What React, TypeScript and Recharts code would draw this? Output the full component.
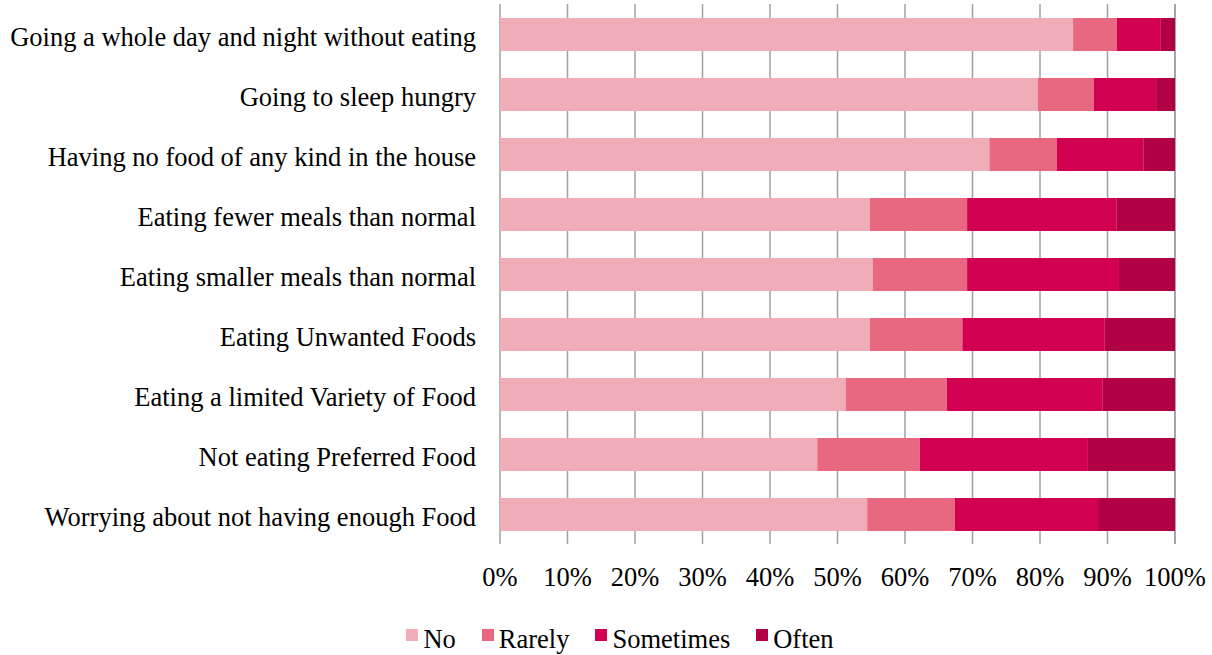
import { BarChart, Bar, XAxis, YAxis, CartesianGrid } from 'recharts';

const categories = [
  'Going a whole day and night without eating',
  'Going to sleep hungry',
  'Having no food of any kind in the house',
  'Eating fewer meals than normal',
  'Eating smaller meals than normal',
  'Eating Unwanted Foods',
  'Eating a limited Variety of Food',
  'Not eating Preferred Food',
  'Worrying about not having enough Food',
];

const noValues = [84.9, 79.7, 72.5, 54.8, 55.2, 54.8, 51.2, 47.0, 54.4];
const rarelyValues = [6.5, 8.3, 10.0, 14.4, 14.0, 13.7, 15.0, 15.2, 13.0];
const sometimesValues = [6.5, 9.2, 12.8, 22.1, 22.5, 21.1, 23.1, 24.9, 21.2];
const oftenValues = [2.1, 2.8, 4.7, 8.7, 8.3, 10.4, 10.7, 12.9, 11.4];

const xTicks = [0, 10, 20, 30, 40, 50, 60, 70, 80, 90, 100];

const seriesNames = ['No', 'Rarely', 'Sometimes', 'Often'];
const seriesColors = ['#f0acb7', '#e86882', '#d20050', '#b20044'];

const data = categories.map((name, i) => ({
  name,
  No: noValues[i],
  Rarely: rarelyValues[i],
  Sometimes: sometimesValues[i],
  Often: oftenValues[i],
}));

const font = '"Liberation Serif", "Times New Roman", serif';
const fontSize = 26.5;

export default function App() {
  return (
    <div style={{ position: 'absolute', left: 0, top: 0, width: 1212, height: 655, background: '#fff' }}>
      <BarChart
        width={1212}
        height={655}
        data={data}
        layout="vertical"
        barSize={33}
        margin={{ top: 4, right: 37, left: 0, bottom: 81 }}
      >
        <CartesianGrid horizontal={false} stroke="#a0a0a0" strokeWidth={1.5} />
        <XAxis
          type="number"
          domain={[0, 100]}
          ticks={xTicks}
          tickFormatter={(v) => `${v}%`}
          axisLine={false}
          tickLine={false}
          tickMargin={17}
          interval={0}
          tick={{ fontSize, fill: '#000', fontFamily: font }}
        />
        <YAxis
          type="category"
          dataKey="name"
          width={500}
          axisLine={false}
          tickLine={false}
          tickMargin={18}
          interval={0}
          tick={{ fontSize, fill: '#000', fontFamily: font, dy: 3 }}
        />
        {seriesNames.map((name, i) => (
          <Bar key={name} dataKey={name} stackId="a" fill={seriesColors[i]} isAnimationActive={false} />
        ))}
      </BarChart>

      {/* legend */}
      <div
        style={{
          position: 'absolute',
          left: 14,
          top: 622,
          width: 1212,
          display: 'flex',
          justifyContent: 'center',
          fontFamily: font,
          fontSize,
          lineHeight: '34px',
          color: '#000',
        }}
      >
        {seriesNames.map((name, i) => (
          <span key={name} style={{ display: 'flex', alignItems: 'center', marginRight: i < 3 ? 26 : 0 }}>
            <span
              style={{ display: 'inline-block', width: 12, height: 12, background: seriesColors[i], marginRight: 5, marginTop: -8 }}
            />
            <span>{name}</span>
          </span>
        ))}
      </div>
    </div>
  );
}
